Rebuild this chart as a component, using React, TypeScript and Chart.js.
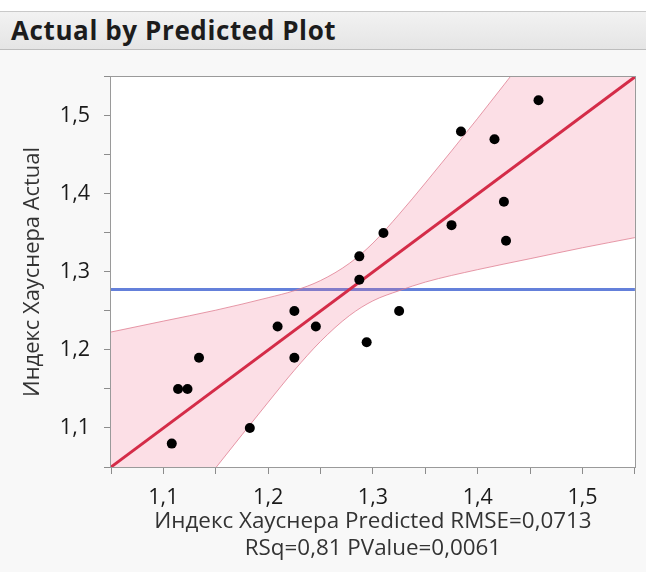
import React, { useEffect, useRef, useState } from "react";
import { Chart, registerables } from "chart.js";

Chart.register(...registerables);

// ---- data ----
const predicted = [1.108, 1.114, 1.123, 1.134, 1.1825, 1.209, 1.225, 1.225, 1.2455, 1.287, 1.287, 1.294, 1.31, 1.325, 1.375, 1.384, 1.416, 1.425, 1.427, 1.458];
const actual = [1.08, 1.15, 1.15, 1.19, 1.10, 1.23, 1.25, 1.19, 1.23, 1.32, 1.29, 1.21, 1.35, 1.25, 1.36, 1.48, 1.47, 1.39, 1.34, 1.52];

const fitX = [1.05, 1.55];
const fitY = [1.05, 1.55];

const meanActual = 1.2775;

const bandX = [1.05, 1.10, 1.15, 1.20, 1.225, 1.25, 1.2775, 1.30, 1.325, 1.35, 1.40, 1.45, 1.50, 1.55];
const bandUpper = [1.223, 1.237, 1.251, 1.267, 1.276, 1.289, 1.311, 1.337, 1.374, 1.414, 1.497, 1.583, 1.669, 1.756];
const bandLower = [0.877, 0.963, 1.049, 1.133, 1.174, 1.211, 1.244, 1.263, 1.276, 1.287, 1.303, 1.317, 1.331, 1.344];

const tickValues = [1.1, 1.2, 1.3, 1.4, 1.5];
const tickLabels = ["1,1", "1,2", "1,3", "1,4", "1,5"];

const axisMin = 1.05;
const axisMax = 1.55;

const chartTitle = "Actual by Predicted Plot";
const yTitle = "Индекс Хауснера Actual";
const xTitle = ["Индекс Хауснера Predicted RMSE=0,0713", "RSq=0,81 PValue=0,0061"];

const FONT = "'Open Sans', 'Noto Sans', sans-serif";

// layout targets (canvas coordinates; canvas sits 50px below page top)
const CANVAS_W = 646;
const CANVAS_H = 522;
const TARGET = { left: 111, top: 16, right: 643, bottom: 417 };

function tickLabel(v: number): string {
  for (let i = 0; i < tickValues.length; i++) {
    if (Math.abs(v - tickValues[i]) < 1e-6) return tickLabels[i];
  }
  return "";
}

function fitFontSize(text: string, weight: string, targetWidth: number, fallback: number): number {
  try {
    const ctx = document.createElement("canvas").getContext("2d");
    if (!ctx) return fallback;
    ctx.font = `${weight} 100px ${FONT}`;
    const w = ctx.measureText(text).width;
    if (!w) return fallback;
    return Math.round((100 * targetWidth / w) * 10) / 10;
  } catch (e) {
    return fallback;
  }
}

const framePlugin = {
  id: "frame",
  beforeDraw(chart: any) {
    const { ctx, chartArea } = chart;
    ctx.save();
    ctx.fillStyle = "#ffffff";
    ctx.fillRect(chartArea.left, chartArea.top, chartArea.right - chartArea.left, chartArea.bottom - chartArea.top);
    ctx.restore();
  },
  afterDraw(chart: any) {
    const { ctx, chartArea } = chart;
    ctx.save();
    ctx.strokeStyle = "#9a9a9a";
    ctx.lineWidth = 1;
    ctx.strokeRect(
      Math.round(chartArea.left) - 0.5,
      Math.round(chartArea.top) - 0.5,
      Math.round(chartArea.right - chartArea.left) + 1,
      Math.round(chartArea.bottom - chartArea.top) + 1
    );
    ctx.restore();
  },
};

export default function App() {
  const canvasRef = useRef<HTMLCanvasElement | null>(null);
  const [headerSize, setHeaderSize] = useState(26);

  useEffect(() => {
    if (!canvasRef.current) return;

    setHeaderSize(Math.round(fitFontSize(chartTitle, "700", 331, 27.7) * 0.94 * 10) / 10);
    const xTitleSize = fitFontSize(xTitle[0], "400", 452, 23) * 0.97;
    const yTitleSize = fitFontSize(yTitle, "400", 258, 23) * 0.97;
    const tickSize = 21.5;
    const tickLH = tickSize * 1.2;
    const yLH = yTitleSize * 1.2;

    const points = predicted.map((x, i) => ({ x, y: actual[i] }));
    const fit = fitX.map((x, i) => ({ x, y: fitY[i] }));
    const upper = bandX.map((x, i) => ({ x, y: bandUpper[i] }));
    const lower = bandX.map((x, i) => ({ x, y: bandLower[i] }));
    const mean = [
      { x: axisMin, y: meanActual },
      { x: axisMax, y: meanActual },
    ];

    const dims = { yWidth: TARGET.left, xHeight: CANVAS_H - TARGET.bottom, padTop: TARGET.top, padRight: CANVAS_W - TARGET.right };

    const chart = new Chart(canvasRef.current, {
      type: "line",
      data: {
        datasets: [
          {
            data: points,
            showLine: false,
            pointRadius: 5,
            pointBackgroundColor: "#000000",
            pointBorderColor: "#000000",
            pointBorderWidth: 0,
          },
          {
            data: fit,
            borderColor: "rgb(212,44,72)",
            borderWidth: 3,
            pointRadius: 0,
            fill: false,
          },
          {
            data: upper,
            borderColor: "rgba(222,120,140,0.75)",
            borderWidth: 1,
            pointRadius: 0,
            cubicInterpolationMode: "monotone",
            fill: false,
          },
          {
            data: lower,
            borderColor: "rgba(222,120,140,0.75)",
            borderWidth: 1,
            pointRadius: 0,
            cubicInterpolationMode: "monotone",
            fill: "-1",
            backgroundColor: "rgba(240,110,140,0.22)",
          },
          {
            data: mean,
            borderColor: "rgb(100,128,218)",
            borderWidth: 3,
            pointRadius: 0,
            fill: false,
          },
        ],
      } as any,
      options: {
        animation: false,
        responsive: false,
        maintainAspectRatio: false,
        events: [],
        layout: { padding: { top: dims.padTop, right: dims.padRight, left: 0, bottom: 0 } },
        plugins: {
          legend: { display: false },
          tooltip: { enabled: false },
          title: { display: false },
        },
        scales: {
          x: {
            type: "linear",
            min: axisMin,
            max: axisMax,
            afterFit: (s: any) => {
              s.height = dims.xHeight;
            },
            border: { display: false },
            grid: { display: true, drawOnChartArea: false, drawTicks: true, tickLength: 7, color: "#8c8c8c" },
            ticks: {
              stepSize: 0.05,
              autoSkip: false,
              maxRotation: 0,
              padding: 448 - TARGET.bottom - 7 - tickLH / 2,
              color: "#1a1a1a",
              font: { size: tickSize, family: FONT },
              callback: (v: any) => tickLabel(Number(v)),
            },
            title: {
              display: true,
              text: xTitle,
              color: "#333333",
              font: { size: xTitleSize, family: FONT, lineHeight: 27.3 / xTitleSize },
              padding: { top: 0, bottom: CANVAS_H - 499 - 27.3 / 2 },
            },
          },
          y: {
            type: "linear",
            min: axisMin,
            max: axisMax,
            afterFit: (s: any) => {
              s.width = dims.yWidth;
            },
            border: { display: false },
            grid: { display: true, drawOnChartArea: false, drawTicks: true, tickLength: 7, color: "#8c8c8c" },
            ticks: {
              stepSize: 0.05,
              autoSkip: false,
              padding: 14,
              color: "#1a1a1a",
              font: { size: tickSize, family: FONT },
              callback: (v: any) => tickLabel(Number(v)),
            },
            title: {
              display: true,
              text: yTitle,
              color: "#333333",
              font: { size: yTitleSize, family: FONT },
              padding: { top: 33 - yLH / 2, bottom: 0 },
            },
          },
        },
      } as any,
      plugins: [framePlugin],
    });

    // calibrate the plot area onto the reference position
    for (let k = 0; k < 4; k++) {
      const ca = chart.chartArea;
      const dTop = TARGET.top - ca.top;
      const dLeft = TARGET.left - ca.left;
      const dRight = ca.right - TARGET.right;
      const dBottom = ca.bottom - TARGET.bottom;
      if (Math.abs(dTop) < 0.3 && Math.abs(dLeft) < 0.3 && Math.abs(dRight) < 0.3 && Math.abs(dBottom) < 0.3) break;
      dims.padTop = Math.max(0, dims.padTop + dTop);
      dims.yWidth += dLeft;
      dims.padRight = Math.max(0, dims.padRight + dRight);
      dims.xHeight += dBottom;
      (chart.options as any).layout.padding = { top: dims.padTop, right: dims.padRight, left: 0, bottom: 0 };
      chart.update();
    }

    return () => {
      chart.destroy();
    };
  }, []);

  return (
    <div
      style={{
        position: "fixed",
        left: 0,
        top: 0,
        width: 646,
        height: 572,
        background: "#f8f8f8",
        overflow: "hidden",
      }}
    >
      <div style={{ position: "absolute", left: 0, top: 0, width: 646, height: 11, background: "#ffffff" }} />
      <div
        style={{
          position: "absolute",
          left: 0,
          top: 11,
          width: 646,
          height: 39,
          boxSizing: "border-box",
          borderTop: "1px solid #c9c9c9",
          borderBottom: "1px solid #bdbdbd",
          background: "linear-gradient(#f2f2f2, #e5e5e5)",
          fontFamily: FONT,
          fontWeight: 700,
          fontSize: headerSize,
          letterSpacing: "0.6px",
          color: "#1c1c1c",
          lineHeight: "37px",
          paddingLeft: 11,
          whiteSpace: "nowrap",
        }}
      >
        {chartTitle}
      </div>
      <canvas
        ref={canvasRef}
        width={CANVAS_W}
        height={CANVAS_H}
        style={{ position: "absolute", left: 0, top: 50, width: CANVAS_W, height: CANVAS_H }}
      />
    </div>
  );
}
